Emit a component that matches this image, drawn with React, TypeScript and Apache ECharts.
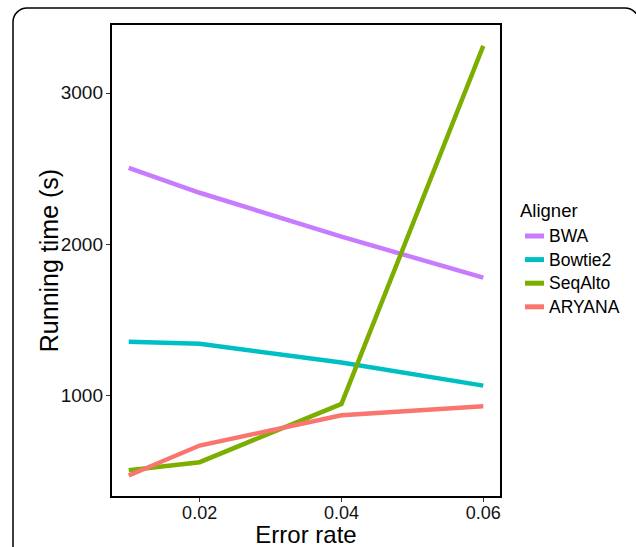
import React, { useEffect, useRef } from "react";
import * as echarts from "echarts";

const errorRates = [0.01, 0.02, 0.04, 0.06];
const xTicks = [0.02, 0.04, 0.06];
const yTicks = [1000, 2000, 3000];
const seriesNames = ["BWA", "Bowtie2", "SeqAlto", "ARYANA"];
const bwa = [2505, 2340, 2050, 1779];
const bowtie2 = [1356, 1343, 1218, 1066];
const seqAlto = [507, 560, 945, 3310];
const aryana = [472, 670, 870, 930];
const colors = ["#C77CFF", "#00BFC4", "#7CAE00", "#F8766D"];

const FONT = "Liberation Sans, Arial, Helvetica, sans-serif";

export default function App() {
  const ref = useRef<HTMLDivElement>(null);
  useEffect(() => {
    if (!ref.current) return;
    const chart = echarts.init(ref.current, undefined, { renderer: "svg" });
    const values = [bwa, bowtie2, seqAlto, aryana];
    const series = seriesNames.map((name, i) => ({
      name,
      type: "line",
      data: errorRates.map((x, j) => [x, values[i][j]]),
      showSymbol: false,
      symbol: "none",
      lineStyle: { color: colors[i], width: 4.5, cap: "butt", join: "miter" },
      itemStyle: { color: colors[i] },
      z: 2,
    }));
    chart.setOption({
      animation: false,
      backgroundColor: "#ffffff",
      textStyle: { fontFamily: FONT },
      grid: {
        left: 111,
        right: 135,
        top: 24,
        bottom: 50,
        containLabel: false,
        outerBoundsMode: "none",
        show: true,
        borderColor: "#000000",
        borderWidth: 2,
        backgroundColor: "transparent",
        z: 5,
      },
      xAxis: {
        type: "value",
        min: 0.0075,
        max: 0.0625,
        name: "Error rate",
        nameLocation: "middle",
        nameGap: 27,
        nameMoveOverlap: false,
        nameTextStyle: { fontSize: 24, lineHeight: 20, color: "#000", fontFamily: FONT },
        splitLine: { show: false },
        axisLine: { show: false },
        axisTick: {
          show: true,
          length: 5,
          customValues: xTicks,
          lineStyle: { color: "#333", width: 1 },
        },
        axisLabel: {
          customValues: xTicks,
          fontSize: 18,
          lineHeight: 15,
          color: "#111",
          margin: 8,
          fontFamily: FONT,
          formatter: (v: number) => v.toFixed(2),
        },
      },
      yAxis: {
        type: "value",
        min: 330,
        max: 3455,
        name: "Running time (s)",
        nameLocation: "middle",
        nameGap: 50,
        nameMoveOverlap: false,
        nameRotate: 90,
        nameTextStyle: { fontSize: 25, color: "#000", fontFamily: FONT },
        splitLine: { show: false },
        axisLine: { show: false },
        axisTick: {
          show: true,
          length: 5,
          customValues: yTicks,
          lineStyle: { color: "#333", width: 1 },
        },
        axisLabel: {
          customValues: yTicks,
          fontSize: 19,
          color: "#111",
          margin: 8,
          fontFamily: FONT,
          formatter: (v: number) => String(v),
        },
      },
      legend: {
        orient: "vertical",
        left: 520,
        top: 221,
        itemWidth: 19,
        itemHeight: 5,
        itemGap: 3.6,
        icon: "rect",
        selectedMode: false,
        data: seriesNames.map((n) => ({ name: n, icon: "rect" })),
        textStyle: { fontSize: 17.5, color: "#000", lineHeight: 20, fontFamily: FONT },
      },
      graphic: [
        {
          type: "text",
          left: 520,
          top: 201,
          style: { text: "Aligner", fontSize: 18.5, fill: "#000", fontFamily: FONT },
        },
        {
          type: "rect",
          shape: { x: 13, y: 8, width: 626, height: 620, r: 14 },
          style: { fill: "none", stroke: "#000", lineWidth: 1.5 },
          silent: true,
          z: 10,
        },
      ],
      series,
    });
    return () => chart.dispose();
  }, []);
  return (
    <div
      ref={ref}
      style={{ position: "fixed", left: 0, top: 0, width: 636, height: 547 }}
    />
  );
}
